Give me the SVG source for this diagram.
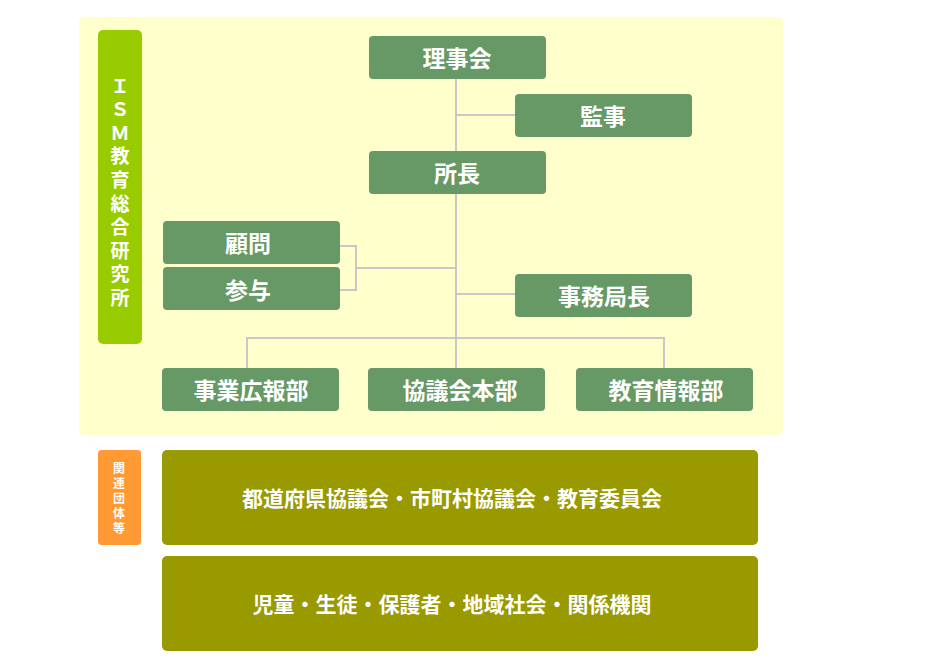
<svg xmlns="http://www.w3.org/2000/svg" width="950" height="670" viewBox="0 0 950 670">
<style>
.n{fill:#669966}
.t{fill:#fff;font-family:"Noto Sans CJK JP","Noto Sans",sans-serif;font-weight:bold;font-size:23px;text-anchor:middle;dominant-baseline:central}
.b{fill:#999900}
.bt{fill:#fff;font-family:"Noto Sans CJK JP",sans-serif;font-weight:bold;font-size:21px;text-anchor:middle;dominant-baseline:central}
.v{fill:#fff;font-family:"Noto Sans CJK JP",sans-serif;font-weight:bold;text-anchor:middle;dominant-baseline:central}
.c{stroke:#c8c8c8;stroke-width:2;fill:none}
</style>
<rect x="79" y="17" width="704" height="418" rx="5" fill="#ffffcc"/>
<g id="ism">
<rect x="98" y="30" width="44" height="314" rx="5" fill="#99cc00"/>
<g class="v" font-size="19">
<text x="120" y="84">Ｉ</text><text x="120" y="107">Ｓ</text><text x="120" y="131">Ｍ</text><text x="120" y="154">教</text><text x="120" y="178">育</text><text x="120" y="202">総</text><text x="120" y="225">合</text><text x="120" y="249">研</text><text x="120" y="272">究</text><text x="120" y="296">所</text>
</g>
</g>
<g id="connectors" class="c">
<path d="M456 79V368M456 115H515M456 294H515M340 246H356V290H340M356 268H456M247 368V338H664V368"/>
</g>
<g id="rijikai"><rect class="n" x="369" y="36" width="177" height="43" rx="4"/><text class="t" x="457" y="57">理事会</text></g>
<g id="kanji"><rect class="n" x="515" y="94" width="177" height="43" rx="4"/><text class="t" x="603" y="115">監事</text></g>
<g id="shocho"><rect class="n" x="369" y="151" width="177" height="43" rx="4"/><text class="t" x="457" y="172">所長</text></g>
<g id="komon"><rect class="n" x="163" y="221" width="177" height="43" rx="4"/><text class="t" x="248" y="242">顧問</text></g>
<g id="sanyo"><rect class="n" x="163" y="267" width="177" height="43" rx="4"/><text class="t" x="248" y="289">参与</text></g>
<g id="jimukyokucho"><rect class="n" x="515" y="274" width="177" height="43" rx="4"/><text class="t" x="604" y="295">事務局長</text></g>
<g id="jigyo"><rect class="n" x="162" y="368" width="177" height="43" rx="4"/><text class="t" x="251" y="389">事業広報部</text></g>
<g id="kyogikai"><rect class="n" x="368" y="368" width="177" height="43" rx="4"/><text class="t" x="460" y="389">協議会本部</text></g>
<g id="kyoiku"><rect class="n" x="576" y="368" width="177" height="43" rx="4"/><text class="t" x="666" y="389">教育情報部</text></g>
<g id="kanren">
<rect x="98" y="450" width="43" height="95" rx="4" fill="#ff9933"/>
<g class="v" font-size="12">
<text x="119" y="467">関</text><text x="119" y="482">連</text><text x="119" y="497">団</text><text x="119" y="512">体</text><text x="119" y="527">等</text>
</g>
</g>
<g id="todofuken"><rect class="b" x="162" y="450" width="596" height="95" rx="5"/><text class="bt" x="452" y="497">都道府県協議会・市町村協議会・教育委員会</text></g>
<g id="jido"><rect class="b" x="162" y="556" width="596" height="95" rx="5"/><text class="bt" x="452" y="603">児童・生徒・保護者・地域社会・関係機関</text></g>
</svg>
